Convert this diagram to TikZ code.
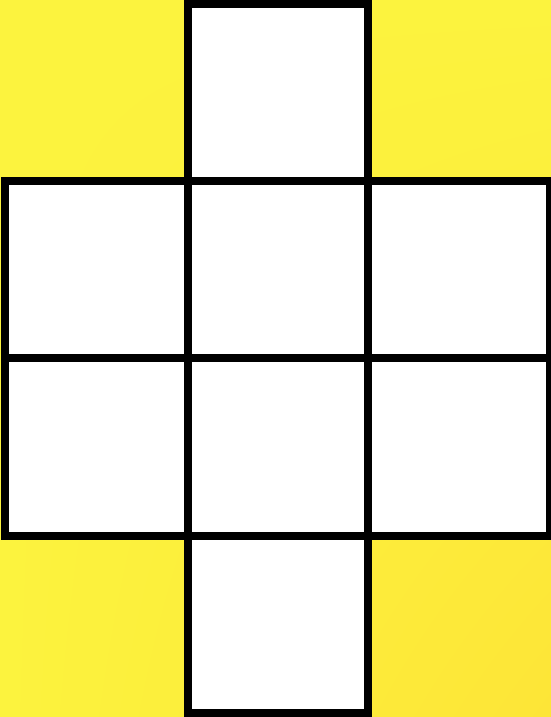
\documentclass[tikz,border=0pt]{standalone}
\usepackage{tikz}
\usepackage{xcolor}
\usetikzlibrary{shadings}
\definecolor{padyellow}{RGB}{252,243,62}
\definecolor{padorange}{RGB}{253,229,55}

\begin{document}
\begin{tikzpicture}[x=0.5pt,y=-0.5pt,
  cell/.style={draw=black,fill=white,line width=4.3pt}]
\useasboundingbox (0,0) rectangle (551,717);

% ------------- background -------------
\shade[upper left=padyellow,upper right=padyellow,
       lower left=padyellow,lower right=padorange]
  (0,0) rectangle (551,717);

% ------------- middle band -------------
\foreach \x/\xx in {5/188,188/368,368/550}
  \foreach \y/\yy in {181/358,358/536}
    \draw[cell] (\x,\y) rectangle (\xx,\yy);

% ------------- top and bottom -------------
\draw[cell] (188,4) rectangle (368,181);
\draw[cell] (188,536) rectangle (368,713);

\end{tikzpicture}
\end{document}
